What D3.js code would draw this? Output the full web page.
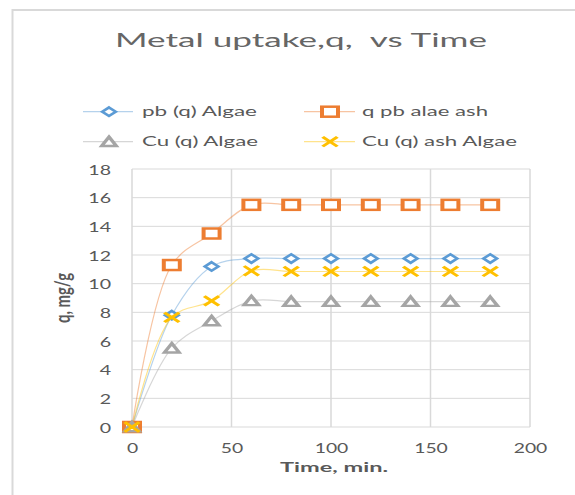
<!DOCTYPE html>
<html>
<head>
<meta charset="utf-8">
<script src="https://cdn.jsdelivr.net/npm/d3@7"></script>
<style>
  html, body { margin: 0; padding: 0; background: #fff; }
  svg { display: block; font-family: Lato, "Open Sans", sans-serif; }
  text { white-space: pre; }
</style>
</head>
<body>
<svg id="chart" width="575" height="495"></svg>
<script>
// ---------- data ----------
const time = [0, 20, 40, 60, 80, 100, 120, 140, 160, 180];
const pbAlgae = [0, 7.8, 11.2, 11.75, 11.75, 11.75, 11.75, 11.75, 11.75, 11.75];
const pbAsh = [0, 11.3, 13.5, 15.5, 15.5, 15.5, 15.5, 15.5, 15.5, 15.5];
const cuAlgae = [0, 5.5, 7.4, 8.8, 8.75, 8.75, 8.75, 8.75, 8.75, 8.75];
const cuAsh = [0, 7.65, 8.8, 10.9, 10.85, 10.85, 10.85, 10.85, 10.85, 10.85];
const seriesNames = ["pb (q) Algae", "q pb alae ash", "Cu (q) Algae", "Cu (q) ash Algae"];
const seriesColors = ["#5b9bd5", "#ed7d31", "#a5a5a5", "#ffc000"];
const seriesMarkers = ["diamond", "square", "triangle", "cross"];
const xTicks = [0, 50, 100, 150, 200];
const yTicks = [0, 2, 4, 6, 8, 10, 12, 14, 16, 18];
const titleText = "Metal uptake,q,  vs Time";
const xTitle = "Time, min.";
const yTitle = "q, mg/g";

// ---------- layout ----------
const SX = 1.6; // horizontal stretch of the reference picture
const svg = d3.select("#chart");
const plot = { left: 132, right: 530, top: 169, bottom: 427 };
const x = d3.scaleLinear().domain([0, 200]).range([plot.left, plot.right]);
const y = d3.scaleLinear().domain([0, 18]).range([plot.bottom, plot.top]);
const textColor = "#595959";
const gridColor = "#d9d9d9";

function stext(px, py, str, o) {
  const t = svg.append("text")
    .attr("transform", `translate(${px},${py}) scale(${SX},1)` + (o.rotate ? ` rotate(${o.rotate})` : ""))
    .attr("text-anchor", o.anchor || "start")
    .attr("font-size", o.size)
    .attr("font-weight", o.weight || "normal")
    .attr("fill", o.color || textColor)
    .attr("xml:space", "preserve")
    .text(str);
  if (o.len) t.attr("textLength", o.len).attr("lengthAdjust", "spacingAndGlyphs");
  return t;
}

// chart frame
svg.append("line").attr("x1", 12.5).attr("x2", 12.5).attr("y1", 9).attr("y2", 495)
  .attr("stroke", gridColor).attr("stroke-width", 2);
svg.append("line").attr("x1", 12).attr("x2", 575).attr("y1", 10).attr("y2", 10)
  .attr("stroke", gridColor).attr("stroke-width", 2);

// title
stext(301, 47, titleText, { size: 18.5, anchor: "middle", len: 372 / SX, color: "#666" });

// gridlines
const grid = svg.append("g");
grid.selectAll("line.h").data(yTicks).join("line")
  .attr("x1", plot.left).attr("x2", plot.right)
  .attr("y1", d => y(d)).attr("y2", d => y(d))
  .attr("stroke", gridColor).attr("stroke-width", 1);
grid.selectAll("line.v").data(xTicks).join("line")
  .attr("y1", plot.top).attr("y2", plot.bottom)
  .attr("x1", d => x(d)).attr("x2", d => x(d))
  .attr("stroke", gridColor).attr("stroke-width", 1.5);

// axes via d3 axis generators (tick labels only)
const yAxis = svg.append("g").attr("transform", `translate(${plot.left},0)`)
  .call(d3.axisLeft(y).tickValues(yTicks).tickSize(0).tickPadding(0).tickFormat(d3.format("d")));
yAxis.select(".domain").remove();
yAxis.selectAll(".tick text").each(function(d) {
  const s = String(d);
  d3.select(this)
    .attr("x", null).attr("dy", null)
    .attr("transform", `translate(-21,0) scale(${SX},1)`)
    .attr("text-anchor", "end")
    .attr("dominant-baseline", "central")
    .attr("font-size", 14).attr("font-family", "Lato, sans-serif")
    .attr("fill", textColor)
    .attr("textLength", s.length * 7.1).attr("lengthAdjust", "spacingAndGlyphs");
});

const xAxis = svg.append("g").attr("transform", `translate(0,${plot.bottom})`)
  .call(d3.axisBottom(x).tickValues(xTicks).tickSize(0).tickPadding(0).tickFormat(d3.format("d")));
xAxis.select(".domain").remove();
xAxis.selectAll(".tick text").each(function(d) {
  const s = String(d);
  d3.select(this)
    .attr("y", null).attr("dy", null)
    .attr("transform", `translate(0,26) scale(${SX},1)`)
    .attr("text-anchor", "middle")
    .attr("font-size", 14).attr("font-family", "Lato, sans-serif")
    .attr("fill", textColor)
    .attr("textLength", s.length * 7.0).attr("lengthAdjust", "spacingAndGlyphs");
});

// axis titles
stext(334, 472, xTitle, { size: 12.5, weight: "bold", anchor: "middle", len: 108 / SX });
stext(70, 298, yTitle, { size: 12.5, weight: "bold", anchor: "middle", rotate: -90, len: 50 });

// ---------- series ----------
const allSeries = [pbAlgae, pbAsh, cuAlgae, cuAsh];
const lineGen = d3.line().x(d => x(d[0])).y(d => y(d[1])).curve(d3.curveCatmullRom.alpha(0.5));

function drawMarker(g, type, color) {
  if (type === "diamond") {
    g.append("path").attr("d", "M0,-4.3 L4.2,0 L0,4.3 L-4.2,0 Z")
      .attr("fill", "#fff").attr("stroke", color).attr("stroke-width", 2.2);
  } else if (type === "square") {
    g.append("rect").attr("x", -5).attr("y", -5).attr("width", 10).attr("height", 10)
      .attr("fill", "#fff").attr("stroke", color).attr("stroke-width", 2.5);
  } else if (type === "triangle") {
    g.append("path").attr("d", "M0,-4.8 L4.6,4.3 L-4.6,4.3 Z")
      .attr("fill", "#fff").attr("stroke", color).attr("stroke-width", 2.4)
      .attr("stroke-linejoin", "miter");
  } else if (type === "cross") {
    g.append("path").attr("d", "M-4.6,-4.8 L4.6,4.8 M-4.6,4.8 L4.6,-4.8")
      .attr("fill", "none").attr("stroke", color).attr("stroke-width", 2.4);
  }
}

// lines first
allSeries.forEach((vals, i) => {
  const pts = time.map((t, j) => [t, vals[j]]);
  svg.append("path").datum(pts).attr("d", lineGen)
    .attr("fill", "none").attr("stroke", seriesColors[i])
    .attr("stroke-opacity", 0.45).attr("stroke-width", 1.2);
});
// markers
allSeries.forEach((vals, i) => {
  time.forEach((t, j) => {
    const g = svg.append("g").attr("transform", `translate(${x(t)},${y(vals[j])}) scale(${SX},1)`);
    drawMarker(g, seriesMarkers[i], seriesColors[i]);
  });
});

// ---------- legend ----------
const legendPos = [
  { lx1: 83, lx2: 133, mx: 109, tx: 142, cy: 111.7, len: 115 },
  { lx1: 304, lx2: 355, mx: 330, tx: 362, cy: 111.7, len: 126 },
  { lx1: 83, lx2: 133, mx: 109, tx: 142, cy: 141.7, len: 116 },
  { lx1: 304, lx2: 355, mx: 330, tx: 362, cy: 141.7, len: 155 }
];
seriesNames.forEach((name, i) => {
  const p = legendPos[i];
  svg.append("line").attr("x1", p.lx1).attr("x2", p.lx2).attr("y1", p.cy).attr("y2", p.cy)
    .attr("stroke", seriesColors[i]).attr("stroke-opacity", 0.45).attr("stroke-width", 1.2);
  const g = svg.append("g").attr("transform", `translate(${p.mx},${p.cy}) scale(${SX},1)`);
  drawMarker(g, seriesMarkers[i], seriesColors[i]);
  stext(p.tx, p.cy + 4.5, name, { size: 13, len: p.len / SX });
});
</script>
</body>
</html>
